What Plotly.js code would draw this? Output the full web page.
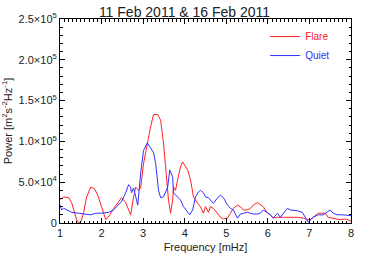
<!DOCTYPE html>
<html>
<head>
<meta charset="utf-8">
<script src="https://cdn.plot.ly/plotly-3.0.1.min.js"></script>
<style>html,body{margin:0;padding:0;background:#fff;}#chart{width:369px;height:264px;}</style>
</head>
<body>
<div id="chart"></div>
<script>
var flareFreq = [1.00,1.02,1.09,1.21,1.28,1.35,1.40,1.45,1.50,1.57,1.64,1.74,1.83,1.91,2.00,2.10,2.19,2.29,2.41,2.48,2.58,2.65,2.70,2.77,2.82,2.89,2.94,3.01,3.10,3.18,3.25,3.35,3.42,3.49,3.54,3.61,3.66,3.71,3.73,3.78,3.83,3.90,3.95,3.97,4.07,4.14,4.21,4.31,4.38,4.45,4.50,4.57,4.62,4.69,4.79,4.86,4.93,5.03,5.10,5.17,5.27,5.34,5.41,5.51,5.58,5.65,5.75,5.82,5.89,5.98,6.06,6.13,6.23,6.37,6.54,6.71,6.85,6.95,7.02,7.09,7.21,7.31,7.38,7.45,7.57,7.67,7.74,7.86,7.93,8.00];
var flarePower = [30000,29000,32000,31000,25000,13000,4000,0,1000,13000,32000,44000,42000,34000,20000,4000,9000,18000,26000,31000,25000,16000,10000,32000,44000,40000,43000,73000,98000,118000,133000,133000,126000,98000,69000,28000,12000,28000,44000,40000,53000,69000,75000,73000,65000,53000,32000,24000,20000,12000,20000,13000,20000,18000,12000,7000,5000,6000,12000,18000,22000,20000,16000,16000,18000,22000,25000,23000,20000,13000,10000,6000,7000,7000,7000,7000,6000,4000,4000,7000,12000,12000,12000,7000,6000,5000,4000,5000,4000,2000];
var quietFreq = [1.00,1.04,1.09,1.16,1.28,1.45,1.62,1.74,1.86,2.00,2.17,2.29,2.36,2.48,2.58,2.65,2.70,2.72,2.77,2.82,2.87,2.94,3.01,3.10,3.13,3.18,3.25,3.30,3.37,3.42,3.49,3.59,3.64,3.71,3.73,3.83,3.90,3.97,4.07,4.12,4.19,4.26,4.33,4.38,4.45,4.50,4.57,4.67,4.69,4.79,4.86,4.93,5.03,5.10,5.17,5.27,5.34,5.41,5.51,5.58,5.65,5.75,5.82,5.89,5.98,6.06,6.13,6.23,6.30,6.37,6.47,6.54,6.71,6.83,6.90,6.97,7.09,7.21,7.33,7.43,7.50,7.57,7.67,7.81,8.00];
var quietPower = [22000,16000,18000,16000,13000,12000,11000,10000,12000,12000,13000,16000,20000,26000,37000,47000,44000,37000,43000,31000,22000,61000,89000,98000,96000,92000,86000,73000,40000,31000,32000,44000,65000,56000,37000,32000,28000,20000,13000,10000,16000,32000,38000,40000,37000,32000,31000,26000,24000,31000,34000,31000,22000,18000,16000,6000,11000,12000,13000,12000,11000,11000,12000,16000,13000,10000,6000,12000,7000,12000,18000,16000,15000,13000,7000,1000,7000,10000,10000,13000,16000,12000,10000,10000,9000];
var yTickVals = [0,50000,100000,150000,200000,250000];
var yTickText = ['0','5.0×10<sup>4</sup>','1.0×10<sup>5</sup>','1.5×10<sup>5</sup>','2.0×10<sup>5</sup>','2.5×10<sup>5</sup>'];
var xTickVals = [1,2,3,4,5,6,7,8];

var traces = [
  {x: flareFreq, y: flarePower, mode: 'lines', name: '<span style="color:#ff2020">Flare</span>', line: {color: '#ff2020', width: 1}},
  {x: quietFreq, y: quietPower, mode: 'lines', name: '<span style="color:#3030ff">Quiet</span>', line: {color: '#3030ff', width: 1}}
];
var font = 'Liberation Sans, Arial, sans-serif';
var layout = {
  width: 369, height: 264,
  margin: {l: 60, r: 18, t: 19, b: 41},
  paper_bgcolor: '#fff', plot_bgcolor: '#fff',
  font: {family: font, size: 11, color: '#222'},
  title: {text: '11 Feb 2011 &amp; 16 Feb 2011', font: {size: 14, family: font, color: '#222'}, x: 0.5, xanchor: 'center', y: 0.955, yanchor: 'middle'},
  showlegend: true,
  legend: {x: 0.705, y: 0.985, xanchor: 'left', yanchor: 'top', bgcolor: 'rgba(0,0,0,0)', font: {size: 10, family: font}, itemwidth: 30, tracegroupgap: 0},
  xaxis: {
    range: [1, 8], tickvals: xTickVals, ticks: 'inside', ticklen: 5, tickwidth: 1, tickcolor: '#000',
    showline: true, linecolor: '#000', linewidth: 1, mirror: 'ticks', showgrid: false, zeroline: false,
    minor: {dtick: 0.1, ticks: 'inside', ticklen: 2.5, tickcolor: '#000', showgrid: false},
    tickfont: {size: 11}, title: {text: 'Frequency [mHz]', font: {size: 11}, standoff: 5}
  },
  yaxis: {
    range: [0, 250000], tickvals: yTickVals, ticktext: yTickText, ticks: 'inside', ticklen: 5, tickwidth: 1, tickcolor: '#000',
    showline: true, linecolor: '#000', linewidth: 1, mirror: 'ticks', showgrid: false, zeroline: false,
    minor: {dtick: 10000, ticks: 'inside', ticklen: 2.5, tickcolor: '#000', showgrid: false},
    tickfont: {size: 11}, title: {text: 'Power [m<sup>2</sup>s<sup>-2</sup>Hz<sup>-1</sup>]', font: {size: 11}, standoff: 4}
  }
};
Plotly.newPlot('chart', traces, layout, {staticPlot: true, displayModeBar: false});
</script>
</body>
</html>
